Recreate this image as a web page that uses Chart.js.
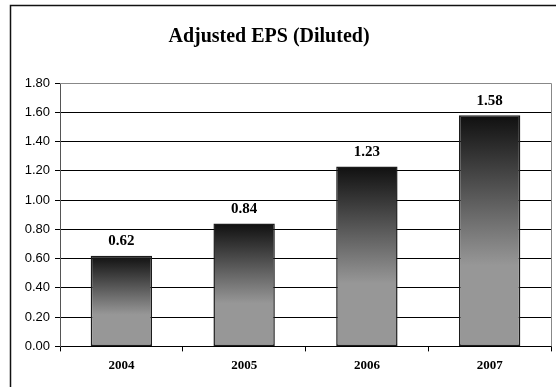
<!DOCTYPE html>
<html>
<head>
<meta charset="utf-8">
<script src="https://cdn.jsdelivr.net/npm/chart.js@4"></script>
<style>
  html, body { margin: 0; padding: 0; background: #fff; }
  #wrap { width: 556px; height: 387px; }
</style>
</head>
<body>
<div id="wrap"><canvas id="eps"></canvas></div>
<script>
const TITLE = 'Adjusted EPS (Diluted)';
const years = ['2004', '2005', '2006', '2007'];
const eps = [0.62, 0.84, 1.23, 1.58];
const yTicks = [0, 0.2, 0.4, 0.6, 0.8, 1.0, 1.2, 1.4, 1.6, 1.8];

// each bar fades from near black at its top to flat gray toward the base
const barFill = (ctx) => {
    const chart = ctx.chart;
    if (!chart.chartArea || ctx.dataIndex === undefined) return '#777';
    const y = chart.scales.y;
    const top = y.getPixelForValue(eps[ctx.dataIndex]);
    const bottom = y.getPixelForValue(0);
    const g = chart.ctx.createLinearGradient(0, top, 0, bottom);
    g.addColorStop(0, '#101010');
    g.addColorStop(0.65, '#979797');
    g.addColorStop(1, '#979797');
    return g;
};

const frame = {
    id: 'frame',
    beforeDraw(chart) {
        const c = chart.ctx;
        c.save();
        c.strokeStyle = '#111';
        c.lineWidth = 1.5;
        c.beginPath();
        c.moveTo(10.5, chart.height + 2);
        c.lineTo(10.5, 5.5);
        c.lineTo(chart.width + 2, 5.5);
        c.stroke();
        c.fillStyle = '#000';
        c.font = 'bold 20px "Liberation Serif", "Times New Roman", serif';
        c.textAlign = 'center';
        c.textBaseline = 'middle';
        c.fillText(TITLE, 269, 37);
        c.restore();
    },
    afterDraw(chart) {
        const a = chart.chartArea;
        const c = chart.ctx;
        c.save();
        c.strokeStyle = '#888';
        c.lineWidth = 1;
        c.beginPath();
        c.moveTo(a.left, Math.round(a.top) + 0.5);
        c.lineTo(Math.round(a.right) + 0.5, Math.round(a.top) + 0.5);
        c.lineTo(Math.round(a.right) + 0.5, a.bottom);
        c.stroke();
        c.restore();
    }
};

const valueLabels = {
    id: 'valueLabels',
    afterDatasetsDraw(chart) {
        const c = chart.ctx;
        const meta = chart.getDatasetMeta(0);
        c.save();
        c.fillStyle = '#000';
        c.font = 'bold 15px "Liberation Serif", "Times New Roman", serif';
        c.textAlign = 'center';
        c.textBaseline = 'bottom';
        meta.data.forEach((bar, i) => {
            c.fillText(eps[i].toFixed(2), bar.x, bar.y - 7);
        });
        c.restore();
    }
};

new Chart(document.getElementById('eps'), {
    type: 'bar',
    data: {
        labels: years,
        datasets: [{
            data: eps,
            backgroundColor: barFill,
            borderColor: '#1c1c1c',
            borderWidth: 1.5,
            borderSkipped: false,
            barPercentage: 0.5,
            categoryPercentage: 1.0
        }]
    },
    options: {
        responsive: true,
        maintainAspectRatio: false,
        animation: false,
        events: [],
        layout: { padding: { left: 0, right: 5, top: 83, bottom: 8 } },
        plugins: {
            legend: { display: false },
            title: { display: false },
            tooltip: { enabled: false }
        },
        scales: {
            x: {
                grid: {
                    offset: true,
                    drawOnChartArea: false,
                    drawTicks: true,
                    tickLength: 5,
                    tickColor: '#000'
                },
                border: { color: '#000', width: 1 },
                ticks: {
                    color: '#000',
                    padding: 6,
                    font: { family: '"Liberation Serif", "Times New Roman", serif', size: 13, weight: 'bold' }
                }
            },
            y: {
                min: 0,
                max: 1.8,
                afterBuildTicks: (scale) => {
                    scale.ticks = yTicks.map(v => ({ value: v }));
                },
                afterFit: (scale) => { scale.width = 60; },
                grid: {
                    color: (ctx) => ctx.tick && ctx.tick.value === 1.8 ? 'rgba(0,0,0,0)' : '#000',
                    tickColor: '#000',
                    tickLength: 5,
                    lineWidth: 1
                },
                border: { color: '#555', width: 1 },
                ticks: {
                    color: '#000',
                    padding: 5,
                    callback: (v) => Number(v).toFixed(2),
                    font: { family: '"Liberation Sans", Arial, sans-serif', size: 13 }
                }
            }
        }
    },
    plugins: [frame, valueLabels]
});
</script>
</body>
</html>
